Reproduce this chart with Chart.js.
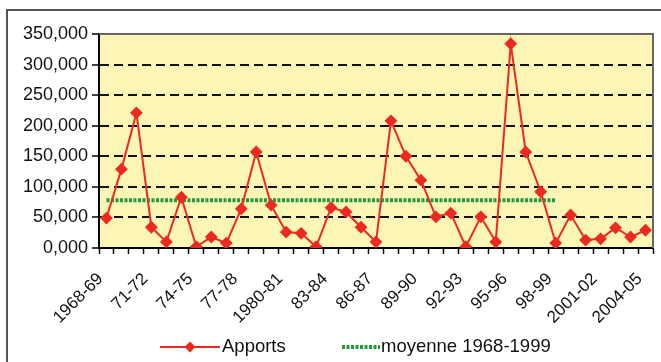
<!DOCTYPE html>
<html>
<head>
<meta charset="utf-8">
<script src="https://cdn.jsdelivr.net/npm/chart.js@4/dist/chart.umd.min.js"></script>
<style>
  html, body { margin: 0; padding: 0; background: #fff; }
  #wrap { width: 661px; height: 362px; position: relative; }
</style>
</head>
<body>
<div id="wrap"><canvas id="graphCanvas" width="661" height="362"></canvas></div>
<script>
// campagnes 1968-69 .. 2004-05
const seasons = ['1968-69', '69-70', '70-71', '71-72', '72-73', '73-74', '74-75', '75-76', '76-77', '77-78',
    '78-79', '79-80', '1980-81', '81-82', '82-83', '83-84', '84-85', '85-86', '86-87', '87-88',
    '88-89', '89-90', '90-91', '91-92', '92-93', '93-94', '94-95', '95-96', '96-97', '97-98',
    '98-99', '1999-00', '2000-01', '2001-02', '2002-03', '2003-04', '2004-05'];

const apports = [49, 129, 221, 34, 10, 83, 2, 18, 8, 64,
    157, 70, 26, 24, 2, 66, 59, 34, 10, 208,
    150, 111, 51, 57, 2, 51, 10, 334, 157, 92,
    8, 54, 13, 15, 33, 18, 29];

const moyenne = [78, 78, 78, 78, 78, 78, 78, 78, 78, 78,
    78, 78, 78, 78, 78, 78, 78, 78, 78, 78,
    78, 78, 78, 78, 78, 78, 78, 78, 78, 78,
    78, null, null, null, null, null, null];

const yTickLabels = ['0,000', '50,000', '100,000', '150,000', '200,000', '250,000', '300,000', '350,000'];

const FONT = "'Liberation Sans', Arial, sans-serif";

// yellow plot area, grey frame around the whole thing, hand-made legend
const decor = {
    id: 'decor',
    beforeDraw(chart) {
        const {ctx, chartArea: a} = chart;
        ctx.save();
        ctx.fillStyle = '#fbf6b6';
        ctx.fillRect(a.left, a.top, a.right - a.left, a.bottom - a.top);
        ctx.strokeStyle = '#555';
        ctx.lineWidth = 2;
        ctx.strokeRect(7, 10, 720, 420);
        ctx.restore();
    },
    afterDraw(chart) {
        const {ctx, chartArea: a} = chart;
        ctx.save();
        ctx.strokeStyle = '#666';
        ctx.lineWidth = 2;
        ctx.beginPath();
        ctx.moveTo(a.left, a.top);
        ctx.lineTo(a.right, a.top);
        ctx.lineTo(a.right, a.bottom);
        ctx.stroke();

        // legend
        const y = 347;
        const ds = chart.data.datasets;
        ctx.font = '18.5px ' + FONT;
        ctx.textBaseline = 'middle';
        ctx.fillStyle = '#111';

        ctx.strokeStyle = ds[0].borderColor;
        ctx.lineWidth = 2;
        ctx.beginPath();
        ctx.moveTo(160, y);
        ctx.lineTo(220, y);
        ctx.stroke();
        ctx.fillStyle = ds[0].pointBackgroundColor;
        ctx.beginPath();
        ctx.moveTo(190, y - 5.5);
        ctx.lineTo(195.5, y);
        ctx.lineTo(190, y + 5.5);
        ctx.lineTo(184.5, y);
        ctx.closePath();
        ctx.fill();
        ctx.fillStyle = '#111';
        ctx.fillText(ds[0].label, 222, y);

        ctx.strokeStyle = ds[1].borderColor;
        ctx.lineWidth = ds[1].borderWidth;
        ctx.setLineDash(ds[1].borderDash);
        ctx.beginPath();
        ctx.moveTo(342, y);
        ctx.lineTo(380, y);
        ctx.stroke();
        ctx.setLineDash([]);
        ctx.fillText(ds[1].label, 381, y);
        ctx.restore();
    }
};

const ctx = document.getElementById('graphCanvas').getContext('2d');
new Chart(ctx, {
    type: 'line',
    data: {
        labels: seasons,
        datasets: [{
            label: 'Apports',
            data: apports,
            borderColor: '#ec2a20',
            backgroundColor: '#ec2a20',
            pointBackgroundColor: '#ec2a20',
            pointBorderColor: '#ec2a20',
            borderWidth: 2,
            pointStyle: 'rectRot',
            pointRadius: 5,
            tension: 0,
            fill: false,
            order: 1
        }, {
            label: 'moyenne 1968-1999',
            data: moyenne,
            borderColor: '#1f9a3c',
            borderWidth: 4,
            borderDash: [3, 1.5],
            pointRadius: 0,
            spanGaps: false,
            fill: false,
            order: 2
        }]
    },
    options: {
        responsive: false,
        animation: false,
        layout: { padding: { left: 0, top: 34, right: 8, bottom: 0 } },
        plugins: {
            legend: { display: false },
            tooltip: { enabled: false }
        },
        scales: {
            x: {
                type: 'category',
                offset: true,
                afterFit(scale) {
                    scale.height = 114;
                    scale.paddingLeft = 0;
                    scale.paddingRight = 0;
                },
                grid: {
                    display: true,
                    offset: true,
                    drawOnChartArea: false,
                    tickLength: 6,
                    tickColor: '#000',
                    tickWidth: 1.5
                },
                border: { color: '#000', width: 2 },
                ticks: {
                    autoSkip: false,
                    minRotation: 45,
                    maxRotation: 45,
                    padding: 15,
                    labelOffset: -6,
                    color: '#111',
                    font: { family: FONT, size: 17 },
                    callback: (v, i) => (i % 3 === 0 ? seasons[i] : '')
                }
            },
            y: {
                min: 0,
                max: 350,
                afterFit(scale) {
                    scale.width = 99;
                    scale.paddingTop = 0;
                    scale.paddingBottom = 0;
                },
                grid: {
                    color: c => (c.tick.value === 0 || c.tick.value === 350) ? 'rgba(0,0,0,0)' : '#111',
                    lineWidth: 2,
                    tickLength: 7,
                    tickColor: '#000',
                    tickWidth: 1.5
                },
                border: { color: '#000', width: 2, dash: [9, 5] },
                ticks: {
                    stepSize: 50,
                    padding: 4,
                    color: '#111',
                    font: { family: FONT, size: 18 },
                    callback: v => yTickLabels[v / 50]
                }
            }
        }
    },
    plugins: [decor]
});
</script>
</body>
</html>
